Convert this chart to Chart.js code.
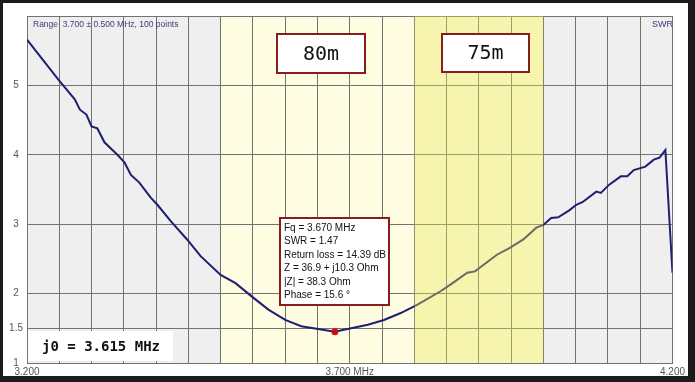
<!DOCTYPE html>
<html>
<head>
<meta charset="utf-8">
<script src="https://cdn.jsdelivr.net/npm/chart.js"></script>
<style>
  html, body { margin: 0; padding: 0; background: #1b1b1b; }
  #wrap { position: absolute; left: 3px; top: 3px; width: 685px; height: 373px; background: #fff; }
</style>
</head>
<body>
<div id="wrap"><canvas id="swrChart"></canvas></div>
<script>
// SWR sweep (MHz, SWR)
const freqs = [3.200, 3.248, 3.274, 3.282, 3.292, 3.300, 3.309, 3.320, 3.340, 3.351,
               3.361, 3.374, 3.392, 3.402, 3.423, 3.448, 3.469, 3.500, 3.523, 3.548,
               3.574, 3.600, 3.625, 3.651, 3.677, 3.702, 3.728, 3.753, 3.779, 3.805,
               3.840, 3.856, 3.882, 3.894, 3.928, 3.948, 3.969, 3.989, 4.000, 4.012,
               4.023, 4.040, 4.051, 4.061, 4.082, 4.089, 4.102, 4.120, 4.130, 4.140,
               4.158, 4.171, 4.180, 4.189, 4.200];
const swr = [5.66, 5.09, 4.80, 4.65, 4.58, 4.41, 4.38, 4.18, 4.00, 3.89,
             3.71, 3.60, 3.38, 3.28, 3.04, 2.78, 2.54, 2.27, 2.15, 1.96,
             1.77, 1.62, 1.53, 1.49, 1.45, 1.50, 1.55, 1.62, 1.72, 1.84,
             2.03, 2.13, 2.30, 2.32, 2.56, 2.66, 2.78, 2.95, 2.99, 3.09,
             3.10, 3.20, 3.28, 3.32, 3.47, 3.45, 3.57, 3.69, 3.69, 3.78,
             3.83, 3.93, 3.96, 4.07, 2.30];

// marker point
const markerFreq = [3.677];
const markerSwr = [1.45];

const yTicks = [1, 1.5, 2, 3, 4, 5, 6];
const xTicks = [];
for (let i = 0; i <= 20; i++) xTicks.push(+(3.2 + i * 0.05).toFixed(2));

// ham bands
const bandNames = ['80m', '75m'];
const bandStart = [3.5, 3.8];
const bandEnd = [4.0, 4.0];

const infoLines = ['Fq = 3.670 MHz', 'SWR = 1.47', 'Return loss = 14.39 dB',
                   'Z = 36.9 + j10.3 Ohm', '|Z| = 38.3 Ohm', 'Phase = 15.6 \u00b0'];
const rangeText = 'Range  3.700 \u00b1 0.500 MHz, 100 points';
const centerText = 'j0 = 3.615 MHz';

const boxRed = '#8a1c1c';
const gridGray = '#727272';

function labelBox(ctx, x, y, w, h, text) {
    ctx.fillStyle = '#fff';
    ctx.fillRect(x, y, w, h);
    ctx.strokeStyle = boxRed;
    ctx.lineWidth = 2;
    ctx.strokeRect(x, y, w, h);
    ctx.fillStyle = '#111';
    ctx.font = '20px "DejaVu Sans Mono", monospace';
    ctx.textAlign = 'center';
    ctx.textBaseline = 'middle';
    ctx.fillText(text, x + w / 2, y + h / 2 + 1);
}

const backdrop = {
    id: 'backdrop',
    beforeDraw(chart) {
        const { ctx, chartArea: a, scales: { x } } = chart;
        ctx.save();
        ctx.fillStyle = '#efefef';
        ctx.fillRect(a.left, a.top, a.right - a.left, a.bottom - a.top);
        // 80m band (pale)
        const x0 = x.getPixelForValue(bandStart[0]);
        const x1 = x.getPixelForValue(bandEnd[0]);
        ctx.fillStyle = '#fffde1';
        ctx.fillRect(x0, a.top, x1 - x0, a.bottom - a.top);
        ctx.restore();
    },
    afterDatasetsDraw(chart) {
        const { ctx, chartArea: a, scales: { x } } = chart;
        ctx.save();
        // 75m band laid over the trace
        const x0 = x.getPixelForValue(bandStart[1]);
        const x1 = x.getPixelForValue(bandEnd[1]);
        ctx.fillStyle = 'rgba(235,228,90,0.38)';
        ctx.fillRect(x0, a.top, x1 - x0, a.bottom - a.top);

        labelBox(ctx, 274, 31, 88, 39, bandNames[0]);
        labelBox(ctx, 439, 31, 87, 38, bandNames[1]);

        // header texts
        ctx.font = '8.5px "Liberation Sans", Arial, sans-serif';
        ctx.fillStyle = '#3c3c7c';
        ctx.textAlign = 'left';
        ctx.textBaseline = 'middle';
        ctx.fillText(rangeText, 30, 22);
        ctx.font = '9px "Liberation Sans", Arial, sans-serif';
        ctx.fillText('SWR', 649, 22);

        // readout box
        ctx.fillStyle = '#fff';
        ctx.fillRect(277, 215, 109, 87);
        ctx.strokeStyle = boxRed;
        ctx.lineWidth = 2;
        ctx.strokeRect(277, 215, 109, 87);
        ctx.fillStyle = '#111';
        ctx.font = '10px "Liberation Sans", Arial, sans-serif';
        infoLines.forEach((t, i) => ctx.fillText(t, 281, 225 + i * 13.5));

        // centre frequency
        ctx.fillStyle = '#fff';
        ctx.fillRect(25, 328, 145, 30);
        ctx.fillStyle = '#111';
        ctx.font = 'bold 14px "DejaVu Sans Mono", monospace';
        ctx.fillText(centerText, 39, 344);
        ctx.restore();
    }
};

new Chart(document.getElementById('swrChart'), {
    type: 'scatter',
    data: {
        datasets: [{
            data: markerFreq.map((f, i) => ({ x: f, y: markerSwr[i] })),
            pointRadius: 3.5,
            pointBackgroundColor: '#c8101c',
            pointBorderWidth: 0,
            showLine: false
        }, {
            data: freqs.map((f, i) => ({ x: f, y: swr[i] })),
            showLine: true,
            borderColor: '#1f1f70',
            borderWidth: 2,
            pointRadius: 0,
            tension: 0
        }]
    },
    options: {
        responsive: true,
        maintainAspectRatio: false,
        animation: false,
        layout: { padding: { top: 13, right: 11, left: 0, bottom: 0 } },
        plugins: { legend: { display: false }, tooltip: { enabled: false } },
        scales: {
            x: {
                type: 'linear',
                min: 3.2,
                max: 4.2,
                afterBuildTicks: s => { s.ticks = xTicks.map(v => ({ value: v })); },
                afterFit: s => { s.height = 13; },
                grid: { color: gridGray, lineWidth: 1, drawTicks: false },
                border: { color: gridGray },
                ticks: {
                    maxRotation: 0,
                    autoSkip: false,
                    padding: 3,
                    color: '#555',
                    font: { family: '"Liberation Sans", Arial, sans-serif', size: 10 },
                    callback: v => {
                        if (Math.abs(v - 3.2) < 1e-6) return '3.200';
                        if (Math.abs(v - 3.7) < 1e-6) return '3.700 MHz';
                        if (Math.abs(v - 4.2) < 1e-6) return '4.200';
                        return '';
                    }
                }
            },
            y: {
                min: 1,
                max: 6,
                afterBuildTicks: s => { s.ticks = yTicks.map(v => ({ value: v })); },
                afterFit: s => { s.width = 24; },
                grid: { color: gridGray, lineWidth: 1, drawTicks: false },
                border: { color: gridGray },
                ticks: {
                    autoSkip: false,
                    padding: 4,
                    crossAlign: 'center',
                    color: '#555',
                    font: { family: '"Liberation Sans", Arial, sans-serif', size: 10 },
                    callback: v => (v === 6 ? '' : String(v))
                }
            }
        }
    },
    plugins: [backdrop]
});
</script>
</body>
</html>
